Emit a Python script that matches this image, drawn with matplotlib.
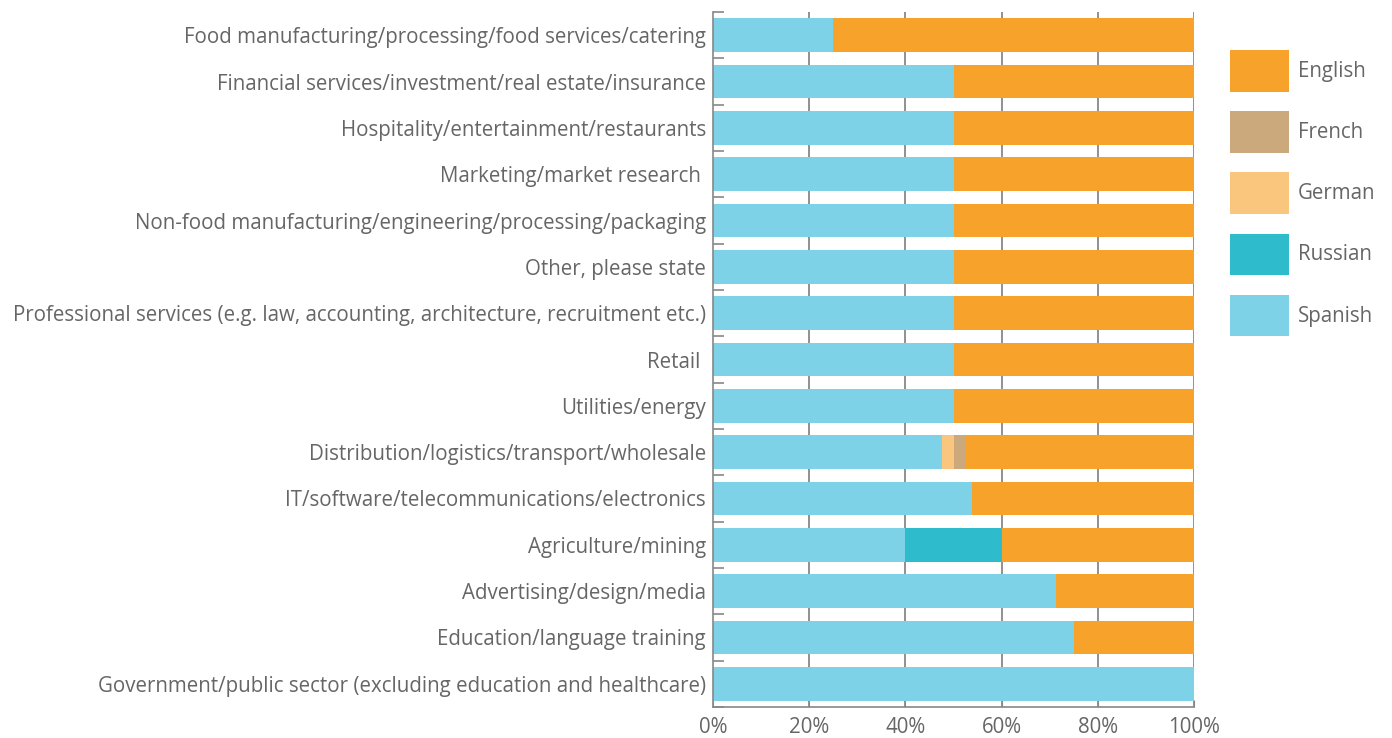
import numpy as np
import matplotlib.pyplot as plt
from matplotlib.patches import Patch
from matplotlib.ticker import FixedLocator, PercentFormatter

plt.rcParams['font.family'] = ['Open Sans', 'DejaVu Sans']

# categories, top to bottom
sectors = [
    "Food manufacturing/processing/food services/catering",
    "Financial services/investment/real estate/insurance",
    "Hospitality/entertainment/restaurants",
    "Marketing/market research ",
    "Non-food manufacturing/engineering/processing/packaging",
    "Other, please state",
    "Professional services (e.g. law, accounting, architecture, recruitment etc.)",
    "Retail ",
    "Utilities/energy",
    "Distribution/logistics/transport/wholesale",
    "IT/software/telecommunications/electronics",
    "Agriculture/mining",
    "Advertising/design/media",
    "Education/language training",
    "Government/public sector (excluding education and healthcare)",
]

# shares in percent, stacked left to right: Spanish, Russian, German, French, English
spanish = [25, 50, 50, 50, 50, 50, 50, 50, 50, 47.6, 53.8, 40, 71.4, 75, 100]
russian = [0, 0, 0, 0, 0, 0, 0, 0, 0, 0, 0, 20, 0, 0, 0]
german  = [0, 0, 0, 0, 0, 0, 0, 0, 0, 2.4, 0, 0, 0, 0, 0]
french  = [0, 0, 0, 0, 0, 0, 0, 0, 0, 2.4, 0, 0, 0, 0, 0]
english = [75, 50, 50, 50, 50, 50, 50, 50, 50, 47.6, 46.2, 40, 28.6, 25, 0]

series = [
    ("Spanish", spanish, "#7dd2e7"),
    ("Russian", russian, "#2ebccc"),
    ("German", german, "#fac57c"),
    ("French", french, "#cba97c"),
    ("English", english, "#f7a22b"),
]

text_col = "#666666"
line_col = "#888888"
fs = 14.8

fig = plt.figure(figsize=(13.92, 7.38), dpi=100)
ax = fig.add_axes([713 / 1392, 1 - 707 / 738, 481 / 1392, 695 / 738])

y = np.arange(len(sectors))
left = np.zeros(len(sectors))
for name, vals, col in series:
    vals = np.array(vals, dtype=float)
    ax.barh(y, vals, left=left, height=0.73, color=col, zorder=2, linewidth=0)
    left += vals

ax.set_xlim(0, 100)
ax.set_ylim(len(sectors) - 0.5, -0.5)

# gridlines behind bars
for gx in [20, 40, 60, 80, 100]:
    ax.axvline(gx, color=line_col, lw=1.3, zorder=1)

ax.xaxis.set_major_locator(FixedLocator([0, 20, 40, 60, 80, 100]))
ax.xaxis.set_major_formatter(PercentFormatter(decimals=0))
ax.tick_params(axis='x', direction='in', length=5, color=line_col,
               labelsize=fs, labelcolor=text_col, pad=7)

# y: boundary ticks + centered labels
ax.yaxis.set_major_locator(FixedLocator(np.arange(len(sectors) + 1) - 0.5))
ax.yaxis.set_major_formatter(plt.NullFormatter())
ax.set_yticks(y, minor=True)
ax.set_yticklabels(sectors, minor=True)
ax.tick_params(axis='y', which='major', direction='in', length=8, color=line_col, width=1.2)
ax.tick_params(axis='y', which='minor', length=0, labelsize=fs, labelcolor=text_col, pad=5)

for s in ['top', 'right']:
    ax.spines[s].set_visible(False)
for s in ['left', 'bottom']:
    ax.spines[s].set_color(line_col)
    ax.spines[s].set_linewidth(1.2)

handles = [Patch(facecolor=c, label=n) for n, v, c in reversed(series)]
leg = fig.legend(handles=handles, loc='upper left', bbox_to_anchor=(1222 / 1392, 1 - 42 / 738),
                 frameon=False, fontsize=fs, handlelength=2.88, handleheight=2.72,
                 labelspacing=0.96, handletextpad=0.4, borderaxespad=0)
for t in leg.get_texts():
    t.set_color(text_col)

fig.savefig("out.png", dpi=100)
